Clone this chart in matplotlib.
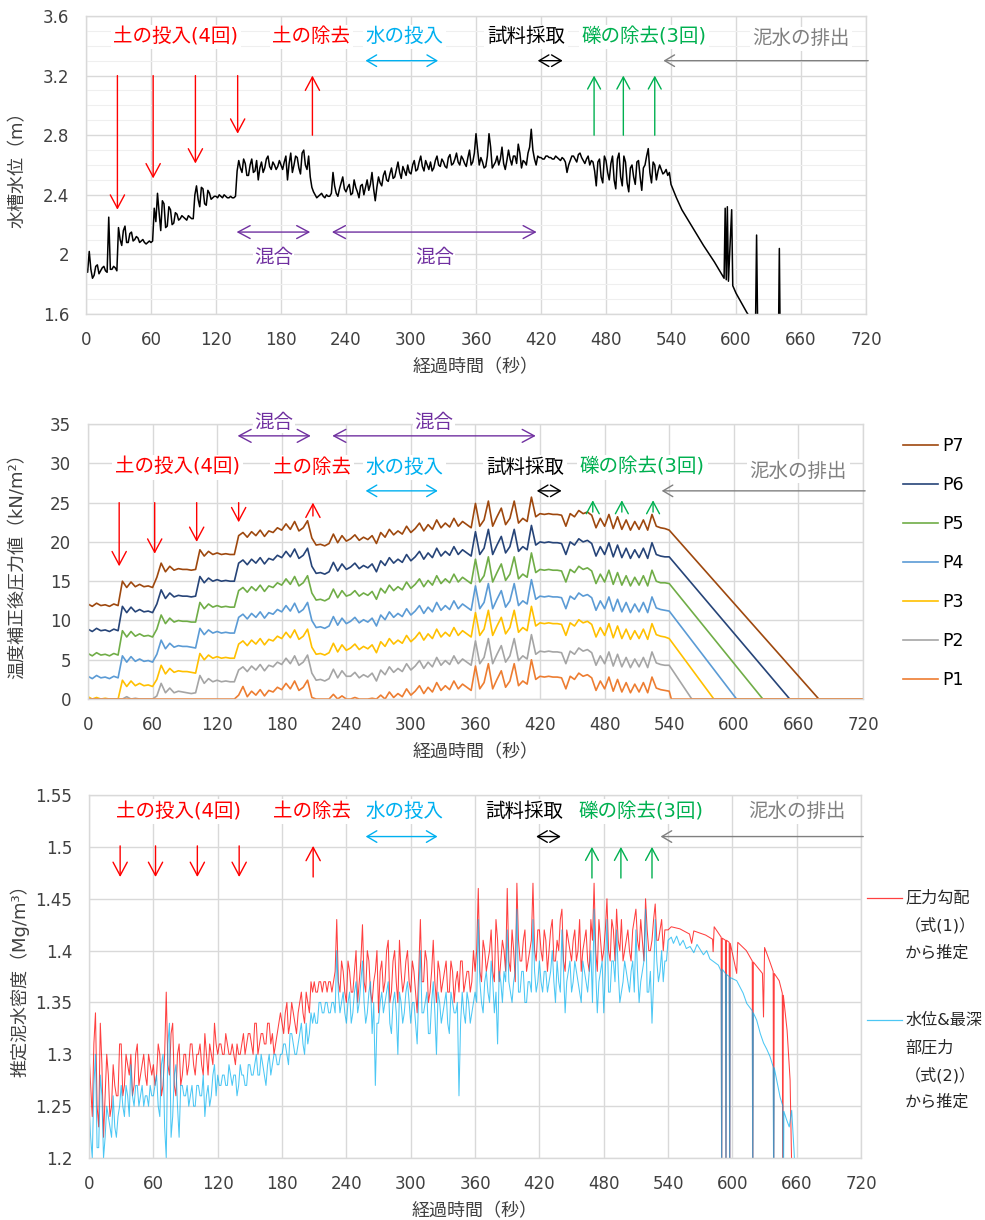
import numpy as np
import matplotlib
matplotlib.use("Agg")
import matplotlib.pyplot as plt
from matplotlib.lines import Line2D
from matplotlib.ticker import FuncFormatter, MultipleLocator

plt.rcParams['font.family'] = ['DejaVu Sans', 'Noto Sans CJK JP']

RED = '#FF0000'
CYAN = '#00B0F0'
GREEN = '#00B050'
GRAY = '#808080'
PURPLE = '#7030A0'
GRID = '#D9D9D9'
TXT = '#404040'

# event timings (s) for the annotation arrows
SOIL_IN = [29, 62, 101, 140]
SOIL_OUT = 209
GRAVEL_OUT = [469, 496, 525]
WATER_IN = (258, 325)
SAMPLING = (417, 440)
DRAIN_START = 533
MIX = [(139, 207), (227, 416)]

EVENT_TEXT = ['土の投入(4回)', '土の除去', '水の投入', '試料採取', '礫の除去(3回)', '泥水の排出']
EVENT_X = [83, 208, 294, 406, 515, 660]
EVENT_COLOR = [RED, RED, CYAN, 'black', GREEN, GRAY]

# ---- top: water level (m), samples every 3 s plus in-between samples ----
level_t = np.arange(0, 541, 3)
level = [1.91, 2.02, 1.84, 1.92, 1.87, 1.91, 1.89, 2.25, 1.90, 1.91,
         2.18, 2.06, 2.19, 2.08, 2.15, 2.10, 2.11, 2.09, 2.08, 2.08,
         2.08, 2.31, 2.41, 2.16, 2.34, 2.19, 2.30, 2.21, 2.27, 2.24,
         2.25, 2.23, 2.25, 2.24, 2.46, 2.32, 2.44, 2.33, 2.41, 2.38,
         2.39, 2.40, 2.38, 2.39, 2.38, 2.38, 2.39, 2.63, 2.55, 2.61,
         2.53, 2.64, 2.56, 2.50, 2.62, 2.58, 2.66, 2.57, 2.60, 2.59,
         2.60, 2.62, 2.50, 2.68, 2.60, 2.65, 2.54, 2.70, 2.57, 2.52,
         2.42, 2.38, 2.40, 2.39, 2.40, 2.39, 2.55, 2.41, 2.44, 2.52,
         2.42, 2.47, 2.41, 2.45, 2.38, 2.47, 2.45, 2.43, 2.55, 2.36,
         2.52, 2.46, 2.56, 2.49, 2.58, 2.52, 2.62, 2.51, 2.56, 2.60,
         2.54, 2.63, 2.57, 2.66, 2.56, 2.60, 2.62, 2.58, 2.66, 2.59,
         2.62, 2.58, 2.67, 2.61, 2.68, 2.60, 2.64, 2.59, 2.70, 2.62,
         2.81, 2.60, 2.62, 2.59, 2.81, 2.58, 2.62, 2.60, 2.72, 2.57,
         2.70, 2.60, 2.66, 2.74, 2.58, 2.62, 2.68, 2.84, 2.64, 2.66,
         2.65, 2.64, 2.66, 2.65, 2.64, 2.65, 2.63, 2.64, 2.55, 2.63,
         2.66, 2.62, 2.68, 2.63, 2.64, 2.60, 2.62, 2.46, 2.64, 2.48,
         2.63, 2.50, 2.66, 2.44, 2.68, 2.46, 2.62, 2.42, 2.60, 2.47,
         2.63, 2.43, 2.60, 2.71, 2.48, 2.60, 2.56, 2.57, 2.55, 2.53,
         2.47]
level_mid_t = np.arange(1.5, 540, 3)
level_mid = [1.88, 1.90, 1.86, 1.93, 1.89, 1.92, 1.88, 1.90, 1.92, 1.89,
             2.10, 2.16, 2.08, 2.14, 2.09, 2.12, 2.08, 2.10, 2.07, 2.09,
             2.09, 2.22, 2.28, 2.36, 2.18, 2.32, 2.20, 2.28, 2.23, 2.26,
             2.24, 2.26, 2.24, 2.40, 2.37, 2.45, 2.34, 2.43, 2.37, 2.39,
             2.38, 2.39, 2.40, 2.38, 2.39, 2.38, 2.56, 2.58, 2.64, 2.53,
             2.60, 2.55, 2.63, 2.58, 2.55, 2.64, 2.59, 2.62, 2.57, 2.63,
             2.57, 2.66, 2.61, 2.55, 2.66, 2.58, 2.68, 2.60, 2.66, 2.45,
             2.40, 2.39, 2.41, 2.38, 2.39, 2.41, 2.46, 2.39, 2.48, 2.44,
             2.45, 2.40, 2.50, 2.42, 2.46, 2.40, 2.50, 2.47, 2.44, 2.45,
             2.48, 2.53, 2.50, 2.54, 2.51, 2.57, 2.55, 2.59, 2.53, 2.55,
             2.60, 2.56, 2.62, 2.59, 2.63, 2.57, 2.56, 2.63, 2.60, 2.64,
             2.59, 2.65, 2.60, 2.64, 2.62, 2.66, 2.61, 2.65, 2.60, 2.68,
             2.70, 2.65, 2.58, 2.66, 2.72, 2.60, 2.66, 2.64, 2.61, 2.63,
             2.64, 2.66, 2.61, 2.68, 2.63, 2.60, 2.72, 2.70, 2.60, 2.65,
             2.64, 2.66, 2.65, 2.64, 2.66, 2.64, 2.65, 2.62, 2.60, 2.66,
             2.64, 2.67, 2.65, 2.61, 2.66, 2.63, 2.56, 2.62, 2.52, 2.66,
             2.55, 2.61, 2.50, 2.64, 2.52, 2.66, 2.48, 2.58, 2.52, 2.62,
             2.52, 2.58, 2.66, 2.55, 2.62, 2.50, 2.60, 2.54, 2.57, 2.55]
level_tail_t = [545, 550, 560, 570, 580, 589, 590, 591, 592, 593, 596, 597,
                600, 610, 618, 619, 620, 630, 639, 640, 641, 650]
level_tail = [2.38, 2.30, 2.18, 2.06, 1.95, 1.84, 2.31, 1.83, 2.32, 1.82, 2.30, 1.79,
              1.74, 1.61, 1.52, 2.13, 1.50, 1.38, 1.28, 2.04, 1.26, 1.15]

# ---- middle: corrected pressures (kN/m2), every 4 s up to 540 s ----
p_t = np.arange(0, 541, 4)
P7 = [12.1, 11.8, 12.2, 11.9, 12.0, 11.8, 12.1, 11.9,
      15.0, 14.2, 14.9, 14.3, 14.6, 14.3, 14.4, 14.2,
      15.5, 17.3, 16.2, 16.9, 16.4, 16.6, 16.5, 16.5, 16.4,
      16.5, 19.0, 18.2, 18.8, 18.4, 18.6, 18.4, 18.5, 18.4, 18.4,
      20.8, 21.2, 20.6, 21.3, 20.8, 21.5, 20.7, 21.4, 21.2, 21.8, 21.5, 22.3, 21.6, 22.6, 21.4, 21.8, 22.7,
      20.5, 19.6, 19.7, 19.5, 19.8, 21.0, 19.9, 20.8, 20.1,
      20.4, 20.9, 20.2, 20.6, 20.3, 20.8, 19.8, 21.2, 20.6, 21.6,
      20.9, 21.4, 21.0, 22.0, 21.2, 21.7, 22.4, 21.4, 22.2, 21.6,
      22.8, 21.8, 22.4, 21.9, 23.0, 22.0, 22.6, 22.2, 21.8, 24.9,
      22.0, 22.8, 25.2, 22.0, 23.2, 24.3, 22.2, 23.0, 25.2, 22.4,
      23.0, 22.6, 25.7, 23.2,
      23.6, 23.5, 23.6, 23.5, 23.5, 23.4, 22.0, 23.6, 23.2, 24.0, 23.6, 23.8, 23.4, 21.8, 23.0, 22.0,
      23.5, 21.7, 23.2, 21.6, 22.8, 21.5, 22.6, 21.6, 22.8, 21.5, 23.5, 22.0, 21.8, 21.7, 21.5]
P6 = [8.9, 8.6, 9.0, 8.7, 8.8, 8.6, 8.9, 8.7,
      11.8, 11.0, 11.7, 11.1, 11.4, 11.1, 11.2, 11.0,
      12.1, 13.9, 12.8, 13.5, 13.0, 13.2, 13.1, 13.1, 13.0,
      13.1, 15.6, 14.8, 15.4, 15.0, 15.2, 15.0, 15.1, 15.0, 15.0,
      17.3, 17.7, 17.1, 17.8, 17.3, 18.0, 17.2, 17.9, 17.7, 18.3, 18.0, 18.8, 18.1, 19.1, 17.9, 18.3, 19.2,
      16.9, 16.0, 16.1, 15.9, 16.2, 17.4, 16.3, 17.2, 16.5,
      16.8, 17.3, 16.6, 17.0, 16.7, 17.2, 16.2, 17.6, 17.0, 18.0,
      17.3, 17.8, 17.4, 18.4, 17.6, 18.1, 18.8, 17.8, 18.6, 18.0,
      19.2, 18.2, 18.8, 18.3, 19.4, 18.4, 19.0, 18.6, 18.2, 21.3,
      18.4, 19.2, 21.6, 18.4, 19.6, 20.7, 18.6, 19.4, 21.6, 18.8,
      19.4, 19.0, 22.1, 19.6,
      20.0, 19.9, 20.0, 19.9, 19.9, 19.8, 18.4, 20.0, 19.6, 20.4, 20.0, 20.2, 19.8, 18.2, 19.4, 18.4,
      19.9, 18.1, 19.6, 18.0, 19.2, 17.9, 19.0, 18.0, 19.2, 17.9, 19.9, 18.4, 18.2, 18.1, 18.1]
P5 = [5.8, 5.5, 5.9, 5.6, 5.7, 5.5, 5.8, 5.6,
      8.7, 7.9, 8.6, 8.0, 8.3, 8.0, 8.1, 7.9,
      8.9, 10.7, 9.6, 10.3, 9.8, 10.0, 9.9, 9.9, 9.8,
      9.8, 12.3, 11.5, 12.1, 11.7, 11.9, 11.7, 11.8, 11.7, 11.7,
      13.8, 14.2, 13.6, 14.3, 13.8, 14.5, 13.7, 14.4, 14.2, 14.8, 14.5, 15.3, 14.6, 15.6, 14.4, 14.8, 15.7,
      13.5, 12.6, 12.7, 12.5, 12.8, 14.0, 12.9, 13.8, 13.1,
      13.3, 13.8, 13.1, 13.5, 13.2, 13.7, 12.7, 14.1, 13.5, 14.5,
      13.8, 14.3, 13.9, 14.9, 14.1, 14.6, 15.3, 14.3, 15.1, 14.5,
      15.7, 14.7, 15.3, 14.8, 15.9, 14.9, 15.5, 15.1, 14.7, 17.8,
      14.9, 15.7, 18.1, 14.9, 16.1, 17.2, 15.1, 15.9, 18.1, 15.3,
      15.9, 15.5, 18.6, 16.1,
      16.5, 16.4, 16.5, 16.4, 16.4, 16.3, 14.9, 16.5, 16.1, 16.9, 16.5, 16.7, 16.3, 14.7, 15.9, 14.9,
      16.4, 14.6, 16.1, 14.5, 15.7, 14.4, 15.5, 14.5, 15.7, 14.4, 16.4, 15.0, 14.8, 14.8, 14.7]
P4 = [2.9, 2.6, 3.0, 2.7, 2.8, 2.6, 2.9, 2.7,
      5.5, 4.7, 5.4, 4.8, 5.1, 4.8, 4.9, 4.7,
      5.7, 7.5, 6.4, 7.1, 6.6, 6.8, 6.7, 6.7, 6.6,
      6.5, 9.0, 8.2, 8.8, 8.4, 8.6, 8.4, 8.5, 8.4, 8.4,
      10.4, 10.8, 10.2, 10.9, 10.4, 11.1, 10.3, 11.0, 10.8, 11.4, 11.1, 11.9, 11.2, 12.2, 11.0, 11.4, 12.3,
      10.0, 9.1, 9.2, 9.0, 9.3, 10.5, 9.4, 10.3, 9.6,
      9.9, 10.4, 9.7, 10.1, 9.8, 10.3, 9.3, 10.7, 10.1, 11.1,
      10.4, 10.9, 10.5, 11.5, 10.7, 11.2, 11.9, 10.9, 11.7, 11.1,
      12.3, 11.3, 11.9, 11.4, 12.5, 11.5, 12.1, 11.7, 11.3, 14.4,
      11.5, 12.3, 14.7, 11.5, 12.7, 13.8, 11.7, 12.5, 14.7, 11.9,
      12.5, 12.1, 15.2, 12.7,
      13.1, 13.0, 13.1, 13.0, 13.0, 12.9, 11.5, 13.1, 12.7, 13.5, 13.1, 13.3, 12.9, 11.3, 12.5, 11.5,
      13.0, 11.2, 12.7, 11.1, 12.3, 11.0, 12.1, 11.1, 12.3, 11.0, 13.0, 11.6, 11.4, 11.3, 11.2]
P3 = [0.3, 0.0, 0.2, 0.0, 0.1, 0.0, 0.0, 0.0,
      2.4, 1.6, 2.3, 1.7, 2.0, 1.7, 1.8, 1.6,
      2.5, 4.3, 3.2, 3.9, 3.4, 3.6, 3.5, 3.5, 3.4,
      3.3, 5.8, 5.0, 5.6, 5.2, 5.4, 5.2, 5.3, 5.2, 5.2,
      7.0, 7.4, 6.8, 7.5, 7.0, 7.7, 6.9, 7.6, 7.4, 8.0, 7.7, 8.5, 7.8, 8.8, 7.6, 8.0, 8.9,
      6.6, 5.7, 5.8, 5.6, 5.9, 7.1, 6.0, 6.9, 6.2,
      6.5, 7.0, 6.3, 6.7, 6.4, 6.9, 5.9, 7.3, 6.7, 7.7,
      7.0, 7.5, 7.1, 8.1, 7.3, 7.8, 8.5, 7.5, 8.3, 7.7,
      8.9, 7.9, 8.5, 8.0, 9.1, 8.1, 8.7, 8.3, 7.9, 11.0,
      8.1, 8.9, 11.3, 8.1, 9.3, 10.4, 8.3, 9.1, 11.3, 8.5,
      9.1, 8.7, 11.8, 9.3,
      9.7, 9.6, 9.7, 9.6, 9.6, 9.5, 8.1, 9.7, 9.3, 10.1, 9.7, 9.9, 9.5, 7.9, 9.1, 8.1,
      9.6, 7.8, 9.3, 7.7, 8.9, 7.6, 8.7, 7.7, 8.9, 7.6, 9.6, 8.2, 8.0, 7.9, 7.7]
P2 = [0.0, 0.0, 0.0, 0.0, 0.0, 0.0, 0.0, 0.0,
      0.0, 0.3, 0.0, 0.1, 0.0, 0.0, 0.0, 0.0,
      0.4, 2.0, 0.8, 1.4, 0.8, 1.0, 0.9, 0.8, 0.7,
      0.8, 3.0, 2.0, 2.6, 2.2, 2.4, 2.2, 2.3, 2.2, 2.2,
      3.7, 4.1, 3.5, 4.2, 3.7, 4.4, 3.6, 4.3, 4.1, 4.7, 4.4, 5.2, 4.5, 5.5, 4.3, 4.7, 5.6,
      3.3, 2.4, 2.5, 2.3, 2.6, 3.8, 2.7, 3.6, 2.9,
      2.9, 3.4, 2.7, 3.1, 2.8, 3.3, 2.3, 3.7, 3.1, 4.1,
      3.4, 3.9, 3.5, 4.5, 3.7, 4.2, 4.9, 3.9, 4.7, 4.1,
      5.3, 4.3, 4.9, 4.4, 5.5, 4.5, 5.1, 4.7, 4.3, 7.4,
      4.5, 5.3, 7.7, 4.5, 5.7, 6.8, 4.7, 5.5, 7.7, 4.9,
      5.5, 5.1, 8.2, 5.7,
      6.1, 6.0, 6.1, 6.0, 6.0, 5.9, 4.5, 6.1, 5.7, 6.5, 6.1, 6.3, 5.9, 4.3, 5.5, 4.5,
      6.0, 4.2, 5.7, 4.1, 5.3, 4.0, 5.1, 4.1, 5.3, 4.0, 6.0, 4.6, 4.4, 4.3, 4.3]
P1 = [0.0, 0.0, 0.0, 0.0, 0.0, 0.0, 0.0, 0.0,
      0.0, 0.0, 0.0, 0.0, 0.0, 0.0, 0.0, 0.0,
      0.0, 0.0, 0.0, 0.0, 0.0, 0.0, 0.0, 0.0, 0.0,
      0.0, 0.0, 0.0, 0.0, 0.0, 0.0, 0.0, 0.0, 0.0, 0.0,
      0.5, 1.6, 0.3, 1.0, 0.5, 1.2, 0.4, 1.1, 0.9, 1.5, 1.2, 2.0, 1.3, 2.3, 1.1, 1.5, 2.4,
      0.2, 0.0, 0.0, 0.0, 0.0, 0.6, 0.0, 0.4, 0.0,
      0.0, 0.2, 0.0, 0.0, 0.0, 0.1, 0.0, 0.5, 0.0, 0.9,
      0.2, 0.7, 0.3, 1.3, 0.5, 1.0, 1.7, 0.7, 1.5, 0.9,
      2.1, 1.1, 1.7, 1.2, 2.3, 1.3, 1.9, 1.5, 1.1, 4.2,
      1.3, 2.1, 4.5, 1.3, 2.5, 3.6, 1.5, 2.3, 4.5, 1.7,
      2.3, 1.9, 5.0, 2.5,
      2.9, 2.8, 2.9, 2.8, 2.8, 2.7, 1.3, 2.9, 2.5, 3.3, 2.9, 3.1, 2.7, 1.1, 2.3, 1.3,
      2.8, 1.0, 2.5, 0.9, 2.1, 0.8, 1.9, 0.9, 2.1, 0.8, 2.8, 1.4, 1.2, 1.1, 1.0]
P_NAMES = ['P7', 'P6', 'P5', 'P4', 'P3', 'P2', 'P1']
P_VALUES = [P7, P6, P5, P4, P3, P2, P1]
P_EMPTY_T = [679, 652, 627, 602.6, 581.5, 561, 542]   # time each sensor reads zero
P_COLORS = ['#9E480E', '#264478', '#70AD47', '#5B9BD5', '#FFC000', '#A5A5A5', '#ED7D31']

# ---- bottom: estimated slurry density (Mg/m3) ----
dens_t = np.arange(0, 541, 3)
dens_mid_t = np.arange(1.5, 540, 3)
dens_grad = [1.30, 1.24, 1.34, 1.23, 1.29, 1.26, 1.28, 1.25, 1.27, 1.26,
             1.31, 1.27, 1.29, 1.30, 1.27, 1.31, 1.28, 1.30, 1.27, 1.29,
             1.29, 1.28, 1.30, 1.27, 1.36, 1.28, 1.33, 1.26, 1.31, 1.28,
             1.30, 1.29, 1.31, 1.28, 1.30, 1.29, 1.32, 1.28, 1.30, 1.33,
             1.30, 1.31, 1.30, 1.31, 1.30, 1.30, 1.31, 1.30, 1.32, 1.31,
             1.32, 1.30, 1.33, 1.31, 1.32, 1.31, 1.33, 1.32, 1.31, 1.33,
             1.33, 1.34, 1.32, 1.35, 1.33, 1.34, 1.36, 1.33, 1.35, 1.37,
             1.37, 1.36, 1.37, 1.37, 1.36, 1.37, 1.37, 1.43, 1.36, 1.38,
             1.35, 1.38, 1.36, 1.40, 1.37, 1.425, 1.36, 1.39, 1.35, 1.38,
             1.34, 1.39, 1.37, 1.41, 1.36, 1.40, 1.35, 1.38, 1.37, 1.40,
             1.36, 1.38, 1.34, 1.43, 1.37, 1.39, 1.36, 1.41, 1.35, 1.38,
             1.37, 1.39, 1.36, 1.38, 1.37, 1.36, 1.39, 1.37, 1.38, 1.37,
             1.38, 1.46, 1.37, 1.40, 1.39, 1.42, 1.37, 1.41, 1.39, 1.40,
             1.46, 1.38, 1.40, 1.465, 1.39, 1.41, 1.38, 1.40, 1.465, 1.39,
             1.42, 1.39, 1.41, 1.40, 1.43, 1.39, 1.40, 1.44, 1.38, 1.41,
             1.39, 1.42, 1.40, 1.38, 1.41, 1.39, 1.43, 1.465, 1.38, 1.41,
             1.40, 1.45, 1.39, 1.42, 1.44, 1.40, 1.39, 1.41, 1.40, 1.42,
             1.44, 1.40, 1.41, 1.45, 1.40, 1.41, 1.445, 1.41, 1.43, 1.42,
             1.42]
dens_grad_mid = [1.27, 1.31, 1.25, 1.33, 1.22, 1.30, 1.24, 1.29, 1.26, 1.31,
                 1.26, 1.30, 1.28, 1.26, 1.30, 1.27, 1.29, 1.28, 1.30, 1.28,
                 1.27, 1.31, 1.26, 1.30, 1.29, 1.32, 1.27, 1.30, 1.27, 1.30,
                 1.28, 1.31, 1.29, 1.30, 1.31, 1.28, 1.30, 1.31, 1.29, 1.31,
                 1.31, 1.30, 1.32, 1.30, 1.31, 1.29, 1.30, 1.31, 1.30, 1.32,
                 1.31, 1.33, 1.30, 1.32, 1.31, 1.33, 1.31, 1.30, 1.32, 1.34,
                 1.32, 1.35, 1.33, 1.34, 1.32, 1.35, 1.34, 1.36, 1.34, 1.36,
                 1.36, 1.37, 1.36, 1.37, 1.37, 1.36, 1.38, 1.37, 1.39, 1.36,
                 1.39, 1.36, 1.38, 1.35, 1.39, 1.37, 1.40, 1.36, 1.37, 1.40,
                 1.38, 1.36, 1.40, 1.35, 1.39, 1.37, 1.41, 1.36, 1.39, 1.37,
                 1.39, 1.36, 1.38, 1.37, 1.40, 1.35, 1.38, 1.37, 1.39, 1.36,
                 1.38, 1.36, 1.39, 1.35, 1.38, 1.39, 1.36, 1.38, 1.36, 1.40,
                 1.40, 1.38, 1.41, 1.38, 1.40, 1.38, 1.43, 1.37, 1.41, 1.38,
                 1.39, 1.42, 1.37, 1.41, 1.39, 1.42, 1.39, 1.41, 1.40, 1.42,
                 1.40, 1.42, 1.38, 1.42, 1.39, 1.41, 1.43, 1.39, 1.42, 1.40,
                 1.41, 1.39, 1.43, 1.40, 1.42, 1.38, 1.41, 1.40, 1.43, 1.39,
                 1.42, 1.40, 1.43, 1.39, 1.41, 1.43, 1.40, 1.42, 1.39, 1.43,
                 1.41, 1.43, 1.39, 1.42, 1.40, 1.43, 1.41, 1.42, 1.40, 1.42]
dens_grad_tail_t = [543, 551, 560, 562, 564, 575, 581.5, 582, 583,
                    589.5, 590, 590.5, 593.5, 594, 594.5, 597, 597.5, 598,
                    604, 605, 613, 618.5, 619, 619.5,
                    628, 629, 630, 635, 638, 638.5, 639,
                    643.6, 646.5, 647, 647.5, 651, 653.8, 655.3]
dens_grad_tail = [1.423, 1.421, 1.416, 1.407, 1.419, 1.415, 1.411, 1.399, 1.423,
                  1.413, 1.15, 1.412, 1.41, 1.15, 1.41, 1.408, 1.15, 1.407,
                  1.378, 1.408, 1.40, 1.39, 1.15, 1.389,
                  1.378, 1.336, 1.403, 1.389, 1.38, 1.15, 1.378,
                  1.371, 1.359, 1.15, 1.357, 1.323, 1.275, 1.19]
dens_level = [1.25, 1.20, 1.30, 1.21, 1.26, 1.22, 1.24, 1.22, 1.23, 1.24,
              1.27, 1.24, 1.26, 1.29, 1.25, 1.27, 1.26, 1.25, 1.26, 1.27,
              1.26, 1.28, 1.24, 1.30, 1.20, 1.33, 1.24, 1.29, 1.22, 1.27,
              1.26, 1.25, 1.27, 1.25, 1.27, 1.26, 1.24, 1.27, 1.26, 1.29,
              1.28, 1.27, 1.28, 1.27, 1.28, 1.28, 1.26, 1.29, 1.28, 1.27,
              1.29, 1.28, 1.30, 1.28, 1.29, 1.27, 1.30, 1.29, 1.30, 1.29,
              1.30, 1.31, 1.29, 1.32, 1.30, 1.31, 1.33, 1.30, 1.31, 1.34,
              1.34, 1.33, 1.35, 1.34, 1.35, 1.34, 1.35, 1.40, 1.34, 1.36,
              1.33, 1.36, 1.34, 1.37, 1.35, 1.39, 1.33, 1.36, 1.32, 1.27,
              1.33, 1.36, 1.35, 1.37, 1.32, 1.36, 1.30, 1.35, 1.34, 1.37,
              1.33, 1.35, 1.31, 1.40, 1.34, 1.36, 1.32, 1.37, 1.30, 1.35,
              1.34, 1.36, 1.32, 1.35, 1.34, 1.26, 1.36, 1.33, 1.35, 1.34,
              1.36, 1.43, 1.35, 1.37, 1.36, 1.39, 1.34, 1.31, 1.37, 1.38,
              1.42, 1.36, 1.37, 1.44, 1.36, 1.38, 1.35, 1.37, 1.43, 1.36,
              1.39, 1.36, 1.38, 1.37, 1.40, 1.35, 1.37, 1.42, 1.34, 1.38,
              1.36, 1.39, 1.37, 1.35, 1.38, 1.36, 1.40, 1.44, 1.34, 1.38,
              1.34, 1.43, 1.36, 1.39, 1.42, 1.35, 1.37, 1.38, 1.36, 1.39,
              1.42, 1.35, 1.38, 1.44, 1.36, 1.33, 1.43, 1.37, 1.40, 1.39,
              1.41]
dens_level_mid = [1.22, 1.27, 1.21, 1.28, 1.20, 1.25, 1.23, 1.26, 1.22, 1.25,
                  1.25, 1.27, 1.24, 1.26, 1.27, 1.25, 1.27, 1.26, 1.25, 1.26,
                  1.27, 1.25, 1.29, 1.23, 1.31, 1.22, 1.28, 1.25, 1.27, 1.26,
                  1.27, 1.26, 1.25, 1.27, 1.26, 1.28, 1.26, 1.25, 1.28, 1.26,
                  1.27, 1.28, 1.27, 1.29, 1.27, 1.28, 1.27, 1.28, 1.27, 1.29,
                  1.28, 1.29, 1.28, 1.30, 1.28, 1.29, 1.28, 1.30, 1.29, 1.30,
                  1.31, 1.30, 1.32, 1.31, 1.30, 1.32, 1.31, 1.33, 1.32, 1.33,
                  1.33, 1.35, 1.34, 1.35, 1.34, 1.35, 1.34, 1.36, 1.35, 1.34,
                  1.35, 1.33, 1.36, 1.34, 1.37, 1.35, 1.34, 1.37, 1.35, 1.33,
                  1.35, 1.34, 1.36, 1.33, 1.35, 1.34, 1.36, 1.33, 1.36, 1.35,
                  1.35, 1.33, 1.36, 1.34, 1.35, 1.32, 1.35, 1.34, 1.36, 1.33,
                  1.35, 1.33, 1.36, 1.34, 1.35, 1.33, 1.34, 1.36, 1.33, 1.35,
                  1.35, 1.37, 1.34, 1.38, 1.35, 1.37, 1.36, 1.38, 1.35, 1.37,
                  1.37, 1.35, 1.38, 1.36, 1.38, 1.35, 1.37, 1.36, 1.38, 1.37,
                  1.37, 1.38, 1.36, 1.38, 1.37, 1.39, 1.36, 1.38, 1.37, 1.39,
                  1.37, 1.38, 1.36, 1.39, 1.37, 1.38, 1.35, 1.38, 1.37, 1.39,
                  1.38, 1.36, 1.39, 1.37, 1.38, 1.36, 1.39, 1.37, 1.38, 1.36,
                  1.38, 1.37, 1.39, 1.36, 1.38, 1.37, 1.39, 1.38, 1.37, 1.39]
dens_level_tail_t = [543, 545, 548, 551, 554, 557, 560.5, 564, 567, 570,
                     573, 576, 579, 583, 586.9, 589.5, 590, 590.5, 593.5, 594,
                     594.5, 597, 597.5, 598, 604, 610, 613.4, 618.5, 619, 619.5,
                     622.6, 626, 629, 632, 635, 638, 638.5, 639, 641.3, 644.4,
                     647, 647.5, 648, 650.5, 653, 655.3, 657, 658.4]
dens_level_tail = [1.413, 1.407, 1.414, 1.405, 1.41, 1.402, 1.404, 1.398, 1.406, 1.401,
                   1.396, 1.40, 1.392, 1.389, 1.386, 1.38, 1.15, 1.382, 1.378, 1.15,
                   1.377, 1.375, 1.15, 1.374, 1.371, 1.359, 1.349, 1.342, 1.15, 1.34,
                   1.333, 1.32, 1.311, 1.305, 1.298, 1.288, 1.15, 1.287, 1.275, 1.259,
                   1.25, 1.15, 1.245, 1.237, 1.23, 1.246, 1.215, 1.19]


def merge(*pairs):
    """join (times, values) pieces into one series ordered by time"""
    t = np.concatenate([np.asarray(p[0], float) for p in pairs])
    v = np.concatenate([np.asarray(p[1], float) for p in pairs])
    order = np.argsort(t, kind='stable')
    return t[order], v[order]


def style(ax, ylim, ystep):
    ax.set_xlim(0, 720)
    ax.set_xticks(np.arange(0, 721, 60))
    ax.set_ylim(*ylim)
    ax.yaxis.set_major_locator(MultipleLocator(ystep))
    ax.yaxis.set_major_formatter(FuncFormatter(lambda v, p: f'{v:g}'))
    ax.grid(True, color=GRID, lw=1.0)
    ax.set_axisbelow(True)
    for s in ax.spines.values():
        s.set_color(GRID)
        s.set_linewidth(1.0)
    ax.tick_params(length=0, pad=12, labelsize=12, colors=TXT)
    ax.set_xlabel('経過時間（秒）', fontsize=13, color=TXT)


def arrow(ax, x0, y0, x1, y1, color, style='->', hl=0.6, hw=0.32, ms=16):
    ax.annotate('', xy=(x1, y1), xytext=(x0, y0), annotation_clip=False,
                arrowprops=dict(arrowstyle=f'{style},head_length={hl},head_width={hw}',
                                color=color, lw=1.0, shrinkA=0, shrinkB=0,
                                mutation_scale=ms))


def events(ax, ty, ty_drain, span_y, soil_top, soil_ends, up_span, green_span):
    for i, (s, x, c) in enumerate(zip(EVENT_TEXT, EVENT_X, EVENT_COLOR)):
        ax.text(x, ty_drain if i == 5 else ty, s, color=c, fontsize=14,
                ha='center', va='center', zorder=5,
                bbox=dict(fc='white', ec='none', pad=2))
    arrow(ax, WATER_IN[0], span_y, WATER_IN[1], span_y, CYAN, '<->', 0.54, 0.32, 13)
    arrow(ax, SAMPLING[0], span_y, SAMPLING[1], span_y, 'black', '<->', 0.54, 0.32, 13)
    arrow(ax, 722, span_y, DRAIN_START, span_y, GRAY, '->', 0.54, 0.32, 13)
    for x, ye in zip(SOIL_IN, soil_ends):
        arrow(ax, x, soil_top, x, ye, RED)
    arrow(ax, SOIL_OUT, up_span[0], SOIL_OUT, up_span[1], RED)
    for x in GRAVEL_OUT:
        arrow(ax, x, green_span[0], x, green_span[1], GREEN, '->', 0.54, 0.29, 16)


def mixing(ax, y_arrow, y_text):
    for a, b in MIX:
        arrow(ax, a, y_arrow, b, y_arrow, PURPLE, '<->', 0.58, 0.31, 15)
        ax.text((a + b) / 2, y_text, '混合', color=PURPLE, fontsize=14,
                ha='center', va='center', zorder=5,
                bbox=dict(fc='white', ec='none', pad=1))


fig = plt.figure(figsize=(9.85, 12.2), dpi=100)
ax1 = fig.add_axes([0.0873, 0.7426, 0.7919, 0.2443])
ax2 = fig.add_axes([0.0893, 0.4270, 0.7868, 0.2254])
ax3 = fig.add_axes([0.0904, 0.0508, 0.7838, 0.2975])

# top panel
style(ax1, (1.6, 3.6), 0.4)
ax1.set_yticks(np.arange(1.6, 3.61, 0.1), minor=True)
ax1.grid(True, which='minor', axis='y', color='#EFEFEF', lw=0.8)
ax1.tick_params(which='minor', length=0)
t, v = merge((level_t, level), (level_mid_t, level_mid), (level_tail_t, level_tail))
ax1.plot(t, v, color='black', lw=1.1)
ax1.set_ylabel('水槽水位（m）', fontsize=13, color=TXT)
ax1.yaxis.set_label_coords(-0.0756, 0.5)
ax1.xaxis.set_label_coords(0.5, -0.148)
events(ax1, 3.46, 3.446, 3.30, 3.2, [2.30, 2.51, 2.61, 2.81], (2.8, 3.2), (2.8, 3.2))
mixing(ax1, 2.15, 1.98)

# middle panel
style(ax2, (0, 35), 5)
for name, vals, t0, c in zip(P_NAMES, P_VALUES, P_EMPTY_T, P_COLORS):
    ax2.plot(np.concatenate([p_t, [t0, 720]]), vals + [0, 0], color=c, lw=1.2, label=name)
ax2.set_ylabel('温度補正後圧力値（kN/m²）', fontsize=13, color=TXT)
ax2.yaxis.set_label_coords(-0.0787, 0.5)
ax2.xaxis.set_label_coords(0.5, -0.16)
events(ax2, 29.5, 29.0, 26.5, 25, [16.9, 18.5, 20.0, 22.5], (23.3, 25), (23.8, 25.3))
mixing(ax2, 33.5, 35.25)
ax2.legend(loc='upper left', bbox_to_anchor=(0.9168, 0.6418), bbox_transform=fig.transFigure,
           frameon=False, fontsize=12.5, handlelength=2.0, handletextpad=0.25,
           labelspacing=1.21, borderpad=0, borderaxespad=0)

# bottom panel
style(ax3, (1.2, 1.55), 0.05)
t, v = merge((dens_t, dens_grad), (dens_mid_t, dens_grad_mid), (dens_grad_tail_t, dens_grad_tail))
ax3.plot(t, v, color=RED, lw=0.75, alpha=0.75)
t, v = merge((dens_t, dens_level), (dens_mid_t, dens_level_mid), (dens_level_tail_t, dens_level_tail))
ax3.plot(t, v, color=CYAN, lw=0.75, alpha=0.7)
ax3.set_ylabel('推定泥水密度（Mg/m³）', fontsize=13, color=TXT)
ax3.yaxis.set_label_coords(-0.0764, 0.5)
ax3.xaxis.set_label_coords(0.5, -0.121)
events(ax3, 1.534, 1.534, 1.510, 1.501, [1.471] * 4, (1.471, 1.501), (1.47, 1.50))

# hand-placed legend for the density panel
for color, alpha, lines, y0 in [(RED, 0.75, ['圧力勾配', '（式(1)）', 'から推定'], 898),
                                (CYAN, 0.7, ['水位&最深', '部圧力', '（式(2)）', 'から推定'], 1020)]:
    fig.add_artist(Line2D([867 / 985, 902 / 985], [1 - y0 / 1220] * 2,
                          color=color, alpha=alpha, lw=0.9))
    for k, s in enumerate(lines):
        fig.text(905 / 985, 1 - (y0 + k * 27.5) / 1220, s, fontsize=11.6,
                 color='#262626', va='center', ha='left')

fig.savefig('out.png', dpi=100, facecolor='white')
